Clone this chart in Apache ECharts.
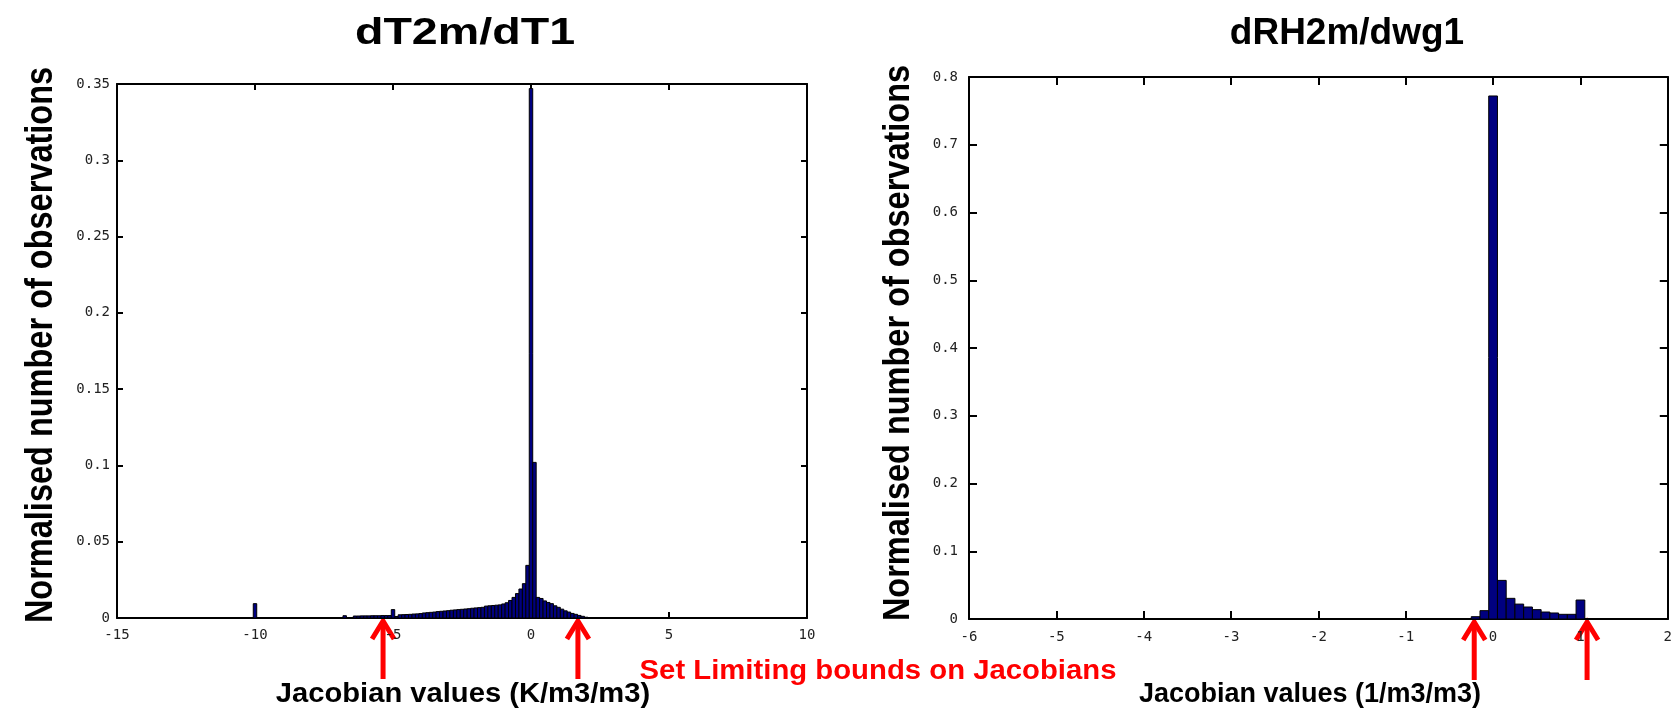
<!DOCTYPE html>
<html>
<head>
<meta charset="utf-8">
<title>Jacobian histograms</title>
<script src="https://cdn.jsdelivr.net/npm/echarts@6/dist/echarts.min.js"></script>
<style>
  html, body { margin: 0; padding: 0; background: #fff; }
  #chart { width: 1675px; height: 713px; }
</style>
</head>
<body>
<div id="chart"></div>
<script>
// left histogram: dT2m/dT1, bins of 0.125 starting at -10.0625
const leftBinStart = -10.0625
const leftBinWidth = 0.125
const leftHeights = [
  0.0094,
  0, 0, 0, 0, 0, 0, 0, 0, 0, 0, 0, 0, 0, 0, 0, 0, 0, 0, 0, 0, 0, 0, 0, 0, 0,
  0.0015, 0, 0,
  0.0013, 0.0013, 0.0014, 0.0014, 0.0014, 0.0015, 0.0015, 0.0015, 0.0016, 0.0016, 0.0016,
  0.0055, 0.0010,
  0.0021, 0.0022, 0.0023, 0.0024, 0.0026, 0.0027, 0.0029,
  0.0033, 0.0035, 0.0037, 0.0039,
  0.0042, 0.0044, 0.0046, 0.0048,
  0.0051, 0.0053, 0.0055, 0.0057, 0.0059, 0.0061,
  0.0064, 0.0066, 0.0068, 0.0070,
  0.0078, 0.0080, 0.0082, 0.0084, 0.0086,
  0.0092, 0.0100, 0.0115, 0.0135, 0.0160, 0.0190, 0.0225, 0.0345,
  0.347, 0.102,
  0.0135, 0.0128, 0.0112, 0.0102, 0.0094, 0.0080, 0.0070, 0.0058, 0.0047, 0.0039,
  0.0030, 0.0024, 0.0017, 0.0011, 0.0005
]
const leftXTicks = { min: -15, max: 10, interval: 5 }
const leftYTicks = { min: 0, max: 0.35, interval: 0.05 }
const leftBounds = [-5.36, 1.70]

// right histogram: dRH2m/dwg1, bins of 0.1 starting at -0.25
const rightBinStart = -0.25
const rightBinWidth = 0.1
const rightHeights = [0.0034, 0.0123, 0.772, 0.057, 0.0305, 0.022, 0.0177, 0.0138, 0.0103, 0.0089, 0.0069, 0.0069, 0.028]
const rightXTicks = { min: -6, max: 2, interval: 1 }
const rightYTicks = { min: 0, max: 0.8, interval: 0.1 }
const rightBounds = [-0.216, 1.076]

const toBins = (start, width, heights) =>
  heights.map((h, i) => [start + i * width, start + (i + 1) * width, h]).filter(d => d[2] > 0)

const renderBar = (params, api) => {
  const top = api.coord([api.value(0), api.value(2)])
  const bottom = api.coord([api.value(1), 0])
  return {
    type: 'rect',
    shape: { x: top[0], y: top[1], width: bottom[0] - top[0], height: bottom[1] - top[1] },
    style: { fill: '#000080', stroke: '#000', lineWidth: 1 }
  }
}

const tickFont = { fontFamily: 'DejaVu Sans Mono', fontSize: 14, color: '#222' }

// main axis with labels plus a mirrored one on the opposite side (box with inner ticks)
const makeAxes = (grid, ticks, dir, tickLen, labelMargin) => {
  const main = {
    gridIndex: grid, type: 'value', ...ticks,
    axisLine: { show: true, onZero: false, lineStyle: { color: '#000', width: 2 } },
    axisTick: { inside: true, length: tickLen, lineStyle: { color: '#000', width: 2 } },
    axisLabel: { ...tickFont, margin: labelMargin },
    splitLine: { show: false }
  }
  const mirror = {
    ...main,
    position: dir === 'x' ? 'top' : 'right',
    axisLabel: { show: false }
  }
  return [{ ...main, position: dir === 'x' ? 'bottom' : 'left' }, mirror]
}

const chart = echarts.init(document.getElementById('chart'))

const textEl = (text, x, y, size, opts = {}) => ({
  type: 'text',
  x, y,
  rotation: opts.rotation || 0,
  scaleX: opts.scaleX || 1,
  scaleY: opts.scaleY || 1,
  style: {
    text,
    fontFamily: 'Liberation Sans, Arial, sans-serif',
    fontWeight: 'bold',
    fontSize: size,
    fill: opts.color || '#000',
    align: 'center',
    verticalAlign: 'middle'
  }
})

const option = {
  backgroundColor: '#fff',
  animation: false,
  grid: [
    { left: 117, top: 84, width: 690, height: 534 },
    { left: 969, top: 77, width: 703, height: 542 }
  ],
  xAxis: [
    ...makeAxes(0, leftXTicks, 'x', 6, 10),
    ...makeAxes(1, rightXTicks, 'x', 8, 11)
  ],
  yAxis: [
    ...makeAxes(0, leftYTicks, 'y', 6, 7),
    ...makeAxes(1, rightYTicks, 'y', 8, 11)
  ],
  series: [
    {
      type: 'custom', xAxisIndex: 0, yAxisIndex: 0,
      renderItem: renderBar, encode: { x: [0, 1], y: 2 },
      data: toBins(leftBinStart, leftBinWidth, leftHeights)
    },
    {
      type: 'custom', xAxisIndex: 2, yAxisIndex: 2,
      renderItem: renderBar, encode: { x: [0, 1], y: 2 },
      data: toBins(rightBinStart, rightBinWidth, rightHeights)
    }
  ],
  graphic: [
    textEl('dT2m/dT1', 465, 34, 37, { scaleX: 1.26 }),
    textEl('dRH2m/dwg1', 1347, 34, 37),
    textEl('Normalised number of observations', 41, 345, 32.5, { rotation: Math.PI / 2, scaleY: 1.2 }),
    textEl('Normalised number of observations', 899, 343, 32.5, { rotation: Math.PI / 2, scaleY: 1.15 }),
    textEl('Jacobian values (K/m3/m3)', 463, 695, 27, { scaleX: 1.08 }),
    textEl('Jacobian values (1/m3/m3)', 1310, 695, 27, { scaleX: 1.0 }),
    textEl('Set Limiting bounds on Jacobians', 878, 672, 27, { scaleX: 1.085, color: '#ff0000' })
  ]
}

chart.setOption(option)

// red arrows pointing at the limiting bounds
const arrowAt = (px) => {
  const [x, y] = px
  return {
    type: 'group',
    children: [
      { type: 'line', shape: { x1: x, y1: y + 4, x2: x, y2: y + 61 }, style: { stroke: '#ff0000', lineWidth: 5 } },
      { type: 'polyline', shape: { points: [[x - 11, y + 21], [x, y + 3], [x + 11, y + 21]] }, style: { stroke: '#ff0000', lineWidth: 5, fill: null } }
    ]
  }
}

const arrows = [
  ...leftBounds.map(v => arrowAt(chart.convertToPixel({ xAxisIndex: 0, yAxisIndex: 0 }, [v, 0]))),
  ...rightBounds.map(v => arrowAt(chart.convertToPixel({ xAxisIndex: 2, yAxisIndex: 2 }, [v, 0])))
]

chart.setOption({ graphic: [...option.graphic, ...arrows] })
</script>
</body>
</html>
